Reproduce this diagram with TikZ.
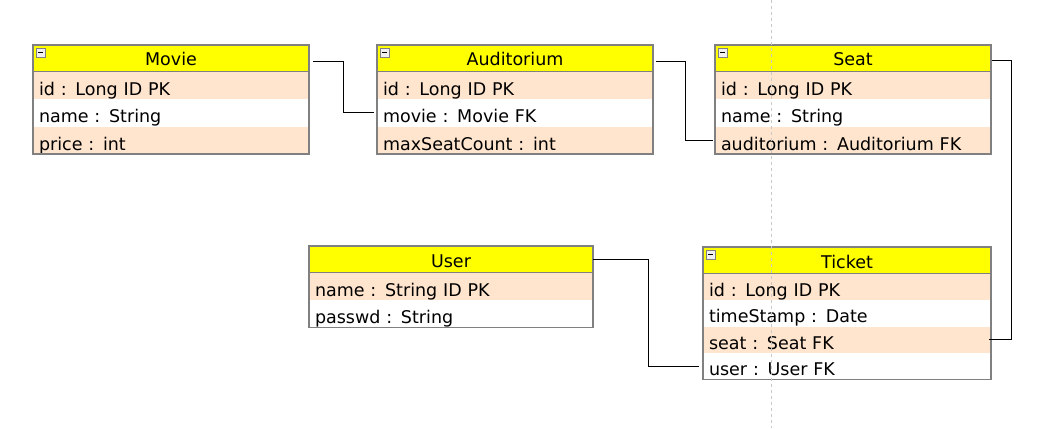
\documentclass[tikz,border=0pt]{standalone}
\usepackage{fontspec}
\setmainfont{DejaVu Sans}
\usepackage{xcolor}
\usepackage{tikz}
\usetikzlibrary{positioning}

\definecolor{peach}{RGB}{255,229,206}
\definecolor{boxgray}{RGB}{128,128,128}
\definecolor{guidegray}{RGB}{200,200,200}
\definecolor{headyellow}{RGB}{255,255,0}

\tikzset{
  tblhead/.style={fill=headyellow, minimum width=#1, minimum height=26.5pt, inner sep=0pt,
    outer sep=0pt, text height=21pt, text depth=5.5pt, anchor=north west},
  tblrow/.style={minimum width=#1, minimum height=27.5pt, inner xsep=6pt, inner ysep=0pt,
    outer sep=0pt, text height=23.5pt, text depth=4pt, text width=#1-12pt, align=left},
  oddrow/.style={fill=peach},
  minbox/.style={draw=boxgray, fill=gray!12, line width=0.8pt, minimum size=9pt,
    inner sep=0pt, anchor=north west},
  frame/.style={draw=boxgray, line width=1.5pt},
  link/.style={draw=black, line width=1pt},
  guideline/.style={draw=guidegray, line width=0.8pt, dash pattern=on 3pt off 3pt},
}

\begin{document}
\begin{tikzpicture}[x=1pt, y=-1pt, every node/.style={font=\fontsize{17.5pt}{20pt}\selectfont}]
  \useasboundingbox[fill=white] (0,0) rectangle (1056,428);

  % Movie
  \node[tblhead=276pt] (mvHead) at (33,45) {Movie};
  \node[tblrow=276pt, oddrow, below=0pt of mvHead] (mvId) {id : Long ID PK};
  \node[tblrow=276pt, below=0pt of mvId] (mvName) {name : String};
  \node[tblrow=276pt, oddrow, below=0pt of mvName] (mvPrice) {price : int};
  \draw[frame] (mvHead.north west) rectangle (mvPrice.south east);
  \draw[frame] (mvHead.south west) -- (mvHead.south east);
  \node[minbox] (mvIcon) at ([shift={(3pt,-3pt)}]mvHead.north west) {\rule{5pt}{1pt}};

  % Auditorium
  \node[tblhead=276pt] (auHead) at (377,45) {Auditorium};
  \node[tblrow=276pt, oddrow, below=0pt of auHead] (auId) {id : Long ID PK};
  \node[tblrow=276pt, below=0pt of auId] (auMovie) {movie : Movie FK};
  \node[tblrow=276pt, oddrow, below=0pt of auMovie] (auMax) {maxSeatCount : int};
  \draw[frame] (auHead.north west) rectangle (auMax.south east);
  \draw[frame] (auHead.south west) -- (auHead.south east);
  \node[minbox] (auIcon) at ([shift={(3pt,-3pt)}]auHead.north west) {\rule{5pt}{1pt}};

  % Seat
  \node[tblhead=276pt] (seHead) at (715,45) {Seat};
  \node[tblrow=276pt, oddrow, below=0pt of seHead] (seId) {id : Long ID PK};
  \node[tblrow=276pt, below=0pt of seId] (seName) {name : String};
  \node[tblrow=276pt, oddrow, below=0pt of seName] (seAud) {auditorium : Auditorium FK};
  \draw[frame] (seHead.north west) rectangle (seAud.south east);
  \draw[frame] (seHead.south west) -- (seHead.south east);
  \node[minbox] (seIcon) at ([shift={(3pt,-3pt)}]seHead.north west) {\rule{5pt}{1pt}};

  % User
  \node[tblhead=284pt] (usHead) at (309,246) {User};
  \node[tblrow=284pt, oddrow, below=0pt of usHead] (usName) {name : String ID PK};
  \node[tblrow=284pt, below=0pt of usName] (usPass) {passwd : String};
  \draw[frame] (usHead.north west) rectangle (usPass.south east);
  \draw[frame] (usHead.south west) -- (usHead.south east);

  % Ticket
  \node[tblhead=288pt] (tkHead) at (703,247) {Ticket};
  \node[tblrow=288pt, oddrow, minimum height=26.5pt, text height=22.5pt, below=0pt of tkHead] (tkId) {id : Long ID PK};
  \node[tblrow=288pt, minimum height=26.5pt, text height=22.5pt, below=0pt of tkId] (tkTime) {timeStamp : Date};
  \node[tblrow=288pt, oddrow, minimum height=26.5pt, text height=22.5pt, below=0pt of tkTime] (tkSeat) {seat : Seat FK};
  \node[tblrow=288pt, minimum height=26.5pt, text height=22.5pt, below=0pt of tkSeat] (tkUser) {user : User FK};
  \draw[frame] (tkHead.north west) rectangle (tkUser.south east);
  \draw[frame] (tkHead.south west) -- (tkHead.south east);
  \node[minbox] (tkIcon) at ([shift={(3pt,-3pt)}]tkHead.north west) {\rule{5pt}{1pt}};

  % relations
  \draw[link] ([shift={(4pt,-3pt)}]mvHead.east) -- ++(30,0) |- ([xshift=-3pt]auMovie.west);
  \draw[link] ([shift={(3pt,-3pt)}]auHead.east) -- ++(29,0) |- ([xshift=-2pt]seAud.west);
  \draw[link] ([shift={(1pt,-2pt)}]seHead.east) -- ++(19,0) |- ([xshift=-2pt]tkSeat.east);
  \draw[link] (usHead.east) -- ++(55,0) |- ([xshift=-4pt]tkUser.west);

  % page break guide
  \draw[guideline] (771,0) -- (771,428);
\end{tikzpicture}
\end{document}
